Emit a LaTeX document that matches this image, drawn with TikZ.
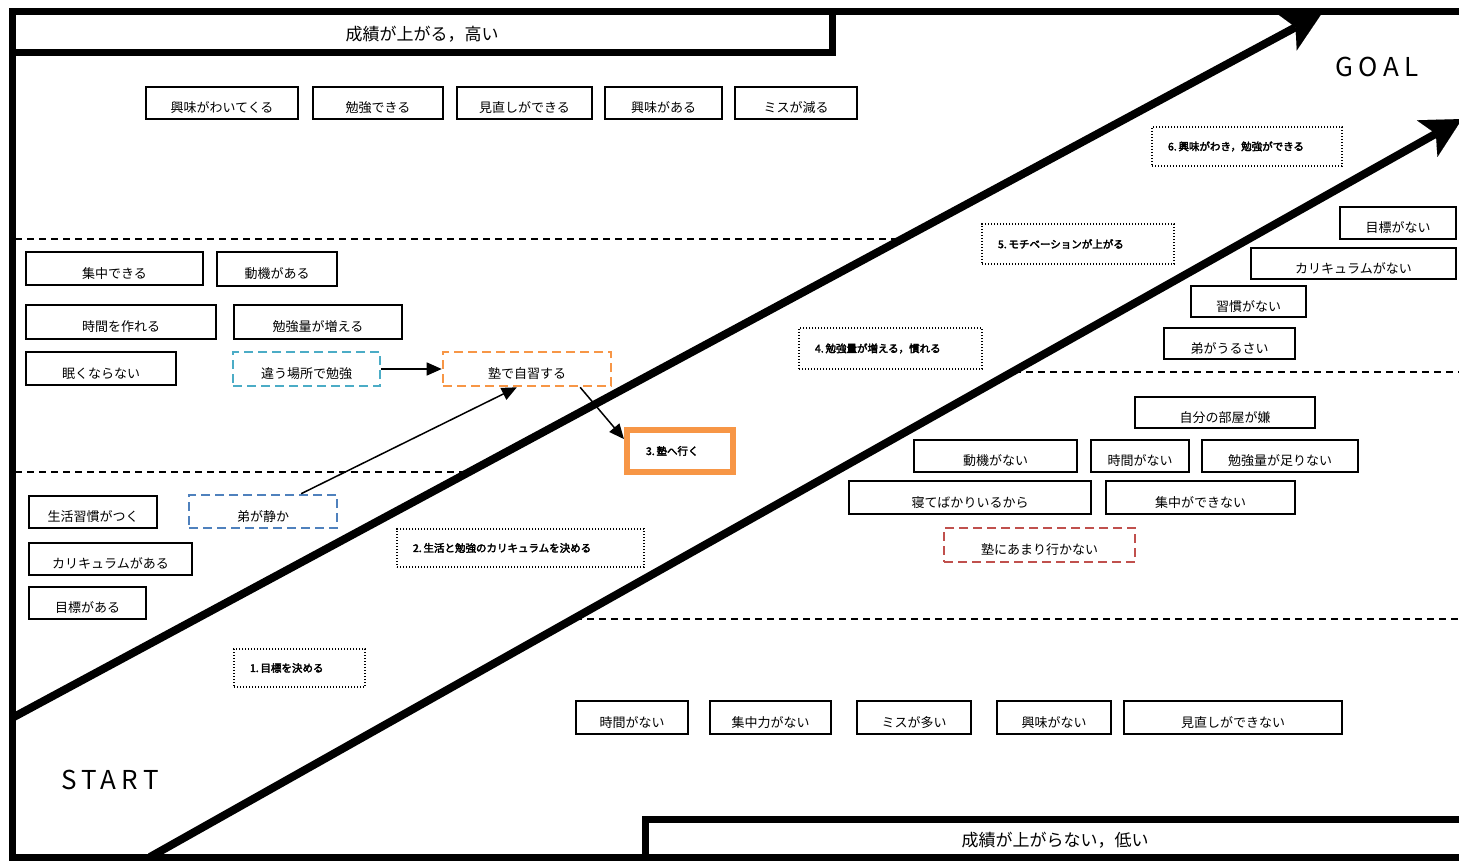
\documentclass[tikz,border=0pt]{standalone}
\usepackage{fontspec}
\setmainfont{Noto Sans CJK JP}
\newfontfamily\jpbold{Noto Sans CJK JP}[FakeBold=3]
\newfontfamily\wideletters{Noto Sans CJK JP}[LetterSpace=20]
\usetikzlibrary{arrows.meta}

\definecolor{cyanc}{HTML}{4BACC6}
\definecolor{orangec}{HTML}{F79646}
\definecolor{bluec}{HTML}{4F81BD}
\definecolor{redc}{HTML}{C0504D}

\tikzset{
  every node/.style={inner sep=0pt},
  plainbox/.style={draw=black, line width=2pt, fill=white,
    font=\fontsize{13}{13}\selectfont, text height=19pt, text depth=0pt},
  cyanbox/.style={plainbox, draw=cyanc, line width=2.6pt, dash pattern=on 9pt off 5pt},
  orangebox/.style={plainbox, draw=orangec, line width=2.6pt, dash pattern=on 9pt off 5pt},
  bluebox/.style={plainbox, draw=bluec, line width=2.6pt, dash pattern=on 9pt off 5pt},
  redbox/.style={plainbox, draw=redc, line width=2.6pt, dash pattern=on 9pt off 5pt},
  stepstyle/.style={draw=black, line width=1.6pt, dash pattern=on 1.4pt off 1.6pt,
    fill=white, font=\jpbold\fontsize{10.5}{10.5}\selectfont, align=left, inner xsep=16pt},
  keystep/.style={stepstyle, draw=orangec, line width=6pt, solid, inner xsep=19pt},
  titlebox/.style={draw=black, line width=7pt, fill=white,
    font=\fontsize{17}{17}\selectfont, text height=16pt, text depth=0pt},
  frameline/.style={line width=7pt, line join=miter},
  divline/.style={line width=2pt, dash pattern=on 7pt off 5pt},
  bigarrow/.style={line width=8pt,
    -{Stealth[length=40pt, width=42pt, inset=10pt, line width=0.01pt]}},
  linkarrow/.style={line width=1.5pt, -{Triangle[length=15pt, width=13pt]}},
  cornerword/.style={font=\wideletters\fontsize{26}{26}\selectfont},
}

% box given by its corners (x1,y1) and (x2,y2), text centred in its lower part
\newcommand\labbox[7][plainbox]{%
  \pgfmathsetmacro\bxw{#5-#3}%
  \pgfmathsetmacro\bxh{#6-#4}%
  \node[#1, minimum width=\bxw pt, minimum height=\bxh pt] (#2)
    at ({(#3+#5)/2},{(#4+#6)/2}) {#7};}

% numbered step box, text set flush left
\newcommand\stepnode[7][stepstyle]{%
  \pgfmathsetmacro\bxw{#5-#3}%
  \pgfmathsetmacro\bxh{#6-#4}%
  \pgfmathsetmacro\bxt{#5-#3-32}%
  \node[#1, minimum width=\bxw pt, minimum height=\bxh pt, text width=\bxt pt] (#2)
    at ({(#3+#5)/2},{(#4+#6)/2}) {#7};}

\begin{document}
\begin{tikzpicture}[x=1pt, y=-1pt]
\useasboundingbox (0,0) rectangle (1459,861);
\fill[white] (0,0) rectangle (1459,861);

% dashed dividers between the zones
\draw[divline] (15,239) -- (900,239);
\draw[divline] (15,472) -- (468,472);
\draw[divline] (1014,372) -- (1459,372);
\draw[divline] (575,619) -- (1459,619);

% outer frame
\draw[frameline] (1465,12) -- (12,12) -- (12,857) -- (1465,857);

% high / low result bands
\node[titlebox, minimum width=820pt, minimum height=41pt] (high) at (422,32.5) {成績が上がる，高い};
\node[titlebox, minimum width=820pt, minimum height=38pt] (low) at (1055,838) {成績が上がらない，低い};

% START and GOAL
\node[cornerword] (goal) at (1377,67) {GOAL};
\node[cornerword] (start) at (110,780) {START};

% the two main paths
\coordinate (p1s) at (12,718);
\coordinate (p1e) at (1322,13);
\coordinate (p2s) at (150,857);
\coordinate (p2e) at (1462,119);
\draw[bigarrow] (p1s) -- (p1e);
\draw[bigarrow] (p2s) -- (p2e);

% upper row
\labbox{t1}{146}{87}{298}{119}{興味がわいてくる}
\labbox{t2}{313}{87}{443}{119}{勉強できる}
\labbox{t3}{457}{87}{592}{119}{見直しができる}
\labbox{t4}{605}{87}{722}{119}{興味がある}
\labbox{t5}{735}{87}{857}{119}{ミスが減る}

% left block
\labbox{a1}{26}{252}{203}{285}{集中できる}
\labbox{a2}{217}{252}{337}{286}{動機がある}
\labbox{a3}{26}{305}{216}{339}{時間を作れる}
\labbox{a4}{234}{305}{402}{339}{勉強量が増える}
\labbox{a5}{26}{352}{176}{385}{眠くならない}
\labbox[cyanbox]{dif}{233}{352}{380}{386}{違う場所で勉強}
\labbox[orangebox]{juku}{443}{352}{611}{386}{塾で自習する}

\labbox{b1}{29}{496}{157}{528}{生活習慣がつく}
\labbox[bluebox]{ototo}{189}{495}{337}{528}{弟が静か}
\labbox{b2}{29}{543}{192}{575}{カリキュラムがある}
\labbox{b3}{29}{587}{146}{619}{目標がある}

% right block
\labbox{c1}{1340}{207}{1456}{239}{目標がない}
\labbox{c2}{1251}{248}{1456}{279}{カリキュラムがない}
\labbox{c3}{1191}{286}{1306}{317}{習慣がない}
\labbox{c4}{1164}{328}{1295}{359}{弟がうるさい}
\labbox{d1}{1135}{397}{1315}{428}{自分の部屋が嫌}
\labbox{d2}{914}{440}{1077}{472}{動機がない}
\labbox{d3}{1091}{440}{1189}{472}{時間がない}
\labbox{d4}{1202}{440}{1358}{472}{勉強量が足りない}
\labbox{d5}{849}{481}{1091}{514}{寝てばかりいるから}
\labbox{d6}{1106}{481}{1295}{514}{集中ができない}
\labbox[redbox]{d7}{944}{528}{1135}{562}{塾にあまり行かない}

% lower row
\labbox{e1}{576}{701}{688}{734}{時間がない}
\labbox{e2}{710}{701}{831}{734}{集中力がない}
\labbox{e3}{857}{701}{971}{734}{ミスが多い}
\labbox{e4}{997}{701}{1111}{734}{興味がない}
\labbox{e5}{1124}{701}{1342}{734}{見直しができない}

% numbered steps
\stepnode{s1}{234}{649}{365}{687}{1.\,目標を決める}
\stepnode{s2}{397}{529}{644}{567}{2.\,生活と勉強のカリキュラムを決める}
\stepnode[keystep]{s3}{630}{430}{730}{472}{3.\,塾へ行く}
\stepnode{s4}{799}{328}{982}{369}{4.\,勉強量が増える，慣れる}
\stepnode{s5}{982}{224}{1174}{264}{5.\,モチベーションが上がる}
\stepnode{s6}{1152}{127}{1342}{166}{6.\,興味がわき，勉強ができる}

% links
\draw[linkarrow] (dif.east) -- (juku.west);
\draw[linkarrow] (ototo.25) -- (juku.241);
\draw[linkarrow] (juku.341) -- (s3.168);
\end{tikzpicture}
\end{document}
